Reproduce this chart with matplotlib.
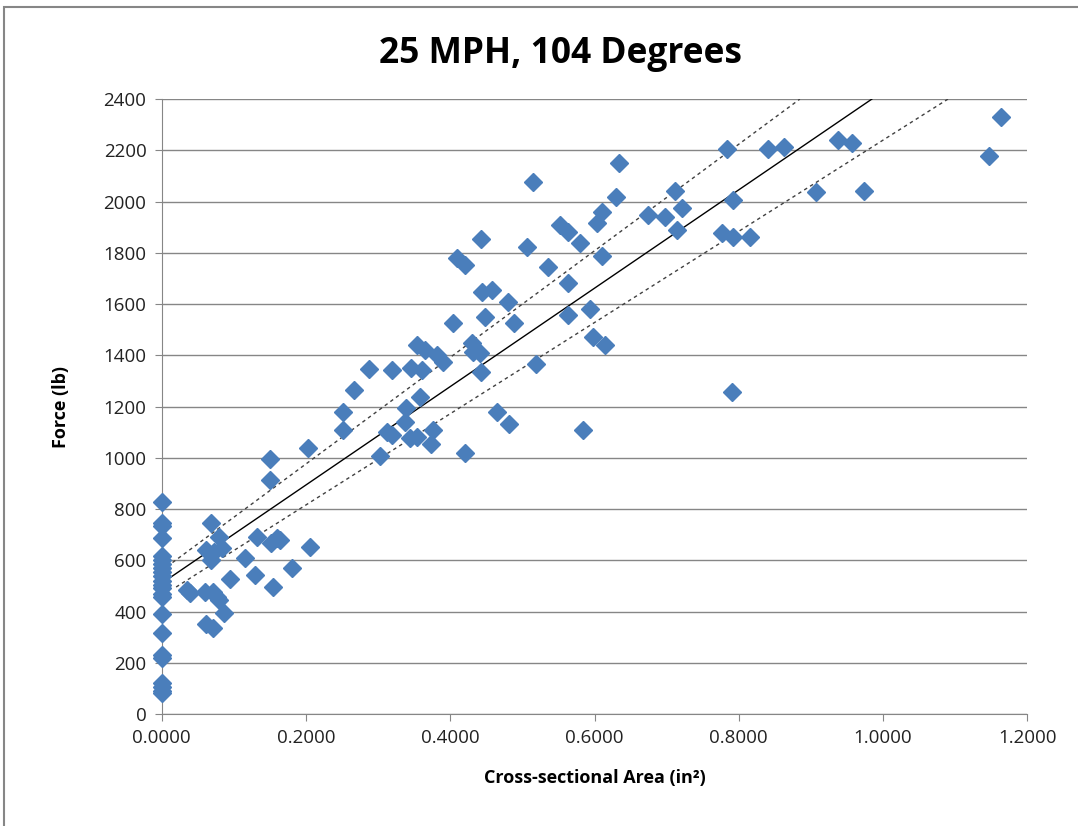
import numpy as np
import matplotlib.pyplot as plt
from matplotlib.patches import Rectangle

# points (area in in^2, force in lb)
zero_force = [827, 745, 735, 687, 615, 600, 585, 570, 555, 540, 520, 505, 490,
              470, 455, 390, 316, 230, 220, 120, 105, 90, 80]

area = [0.035, 0.039, 0.060, 0.071, 0.076, 0.080, 0.062, 0.071, 0.087,
        0.069, 0.080, 0.062, 0.073, 0.083, 0.069, 0.094, 0.115, 0.129, 0.132,
        0.150, 0.150, 0.152, 0.160, 0.164, 0.154, 0.180, 0.203, 0.205,
        0.251, 0.251, 0.266, 0.287, 0.319, 0.302, 0.319, 0.312, 0.339, 0.337,
        0.344, 0.354, 0.345, 0.361, 0.358, 0.354, 0.365, 0.381, 0.390, 0.376,
        0.373, 0.404, 0.420,
        0.515, 0.552, 0.563, 0.580, 0.443, 0.506, 0.409, 0.420, 0.535, 0.444,
        0.458, 0.480, 0.563, 0.448, 0.488, 0.563, 0.430, 0.431, 0.441, 0.443,
        0.519, 0.465, 0.481, 0.584,
        0.634, 0.784, 0.841, 0.863, 0.630, 0.712, 0.674, 0.698, 0.721, 0.714,
        0.610, 0.603, 0.792, 0.777, 0.792, 0.816, 0.610, 0.594, 0.598, 0.615,
        0.791, 0.938, 0.957, 0.907, 0.973, 1.147, 1.163]
force = [484, 472, 476, 476, 457, 445, 351, 335, 394,
         745, 691, 640, 632, 647, 601, 527, 609, 542, 691,
         995, 913, 667, 687, 679, 496, 570, 1038, 652,
         1108, 1178, 1264, 1346, 1342, 1007, 1089, 1100, 1194, 1140,
         1077, 1081, 1350, 1342, 1237, 1440, 1420, 1401, 1374, 1108,
         1055, 1526, 1018,
         2076, 1908, 1881, 1838, 1853, 1822, 1780, 1752, 1744, 1647,
         1655, 1608, 1682, 1549, 1525, 1557, 1448, 1413, 1409, 1335,
         1366, 1178, 1131, 1108,
         2150, 2205, 2205, 2213, 2018, 2041, 1947, 1940, 1975, 1889,
         1959, 1916, 2006, 1877, 1862, 1862, 1787, 1580, 1471, 1440,
         1257, 2240, 2228, 2037, 2041, 2178, 2331]

# trend line and band: (intercept, slope, start x)
trend = (510, 1920, 0.0)
upper = (560, 2080, 0.015)
lower = (460, 1780, 0.02)
y_top = 2400

fig = plt.figure(figsize=(10.78, 8.26), dpi=100)
ax = fig.add_axes([0.150, 0.1356, 0.803, 0.7444])

xs = np.concatenate([np.zeros(len(zero_force)), area])
ys = np.concatenate([zero_force, force])
ax.plot(xs, ys, linestyle='none', marker='D', markersize=9.5,
        color='#4a7ebb', markeredgecolor='#4a7ebb', zorder=3, clip_on=False)

def band(c, ls, col):
    b, m, x0 = c
    x1 = (y_top - b) / m
    ax.plot([x0, x1], [b + m * x0, y_top], linestyle=ls, color=col, lw=1.0, zorder=2)

band(trend, '-', '#000000')
band(upper, (0, (2.5, 2.5)), '#404040')
band(lower, (0, (2.5, 2.5)), '#404040')

ax.set_xlim(0, 1.2)
ax.set_ylim(0, 2400)
ax.set_xticks(np.arange(0, 1.21, 0.2))
ax.set_xticklabels(['%.4f' % v for v in np.arange(0, 1.21, 0.2)])
ax.set_yticks(np.arange(0, 2401, 200))
ax.yaxis.grid(True, color='#868686', lw=1.0)
ax.set_axisbelow(True)
for s in ['top', 'right']:
    ax.spines[s].set_visible(False)
for s in ['left', 'bottom']:
    ax.spines[s].set_color('#868686')
ax.tick_params(axis='both', direction='out', length=5, color='#868686',
               labelsize=13.5, labelcolor='#222222', pad=6)
for lab in ax.get_xticklabels() + ax.get_yticklabels():
    lab.set_family('Open Sans')

ax.set_xlabel('Cross-sectional Area (in²)', fontsize=13, fontweight='bold',
              family='Open Sans', labelpad=16)
ax.set_ylabel('Force (lb)', fontsize=13, fontweight='bold',
              family='Open Sans', labelpad=24)
fig.text(0.52, 0.935, '25 MPH, 104 Degrees', ha='center', va='center',
         fontsize=25.5, fontweight='bold', family='Open Sans')

fig.patches.append(Rectangle((0.004, -0.01), 1.1, 1.002, transform=fig.transFigure,
                             fill=False, edgecolor='#868686', lw=1.5))

fig.savefig('out.png', dpi=100)
